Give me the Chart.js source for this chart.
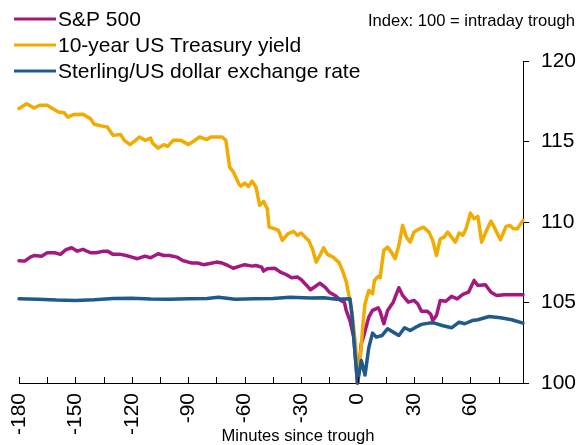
<!DOCTYPE html>
<html>
<head>
<meta charset="utf-8">
<script src="https://cdn.jsdelivr.net/npm/chart.js@4"></script>
<style>
  html, body { margin: 0; padding: 0; background: #fff; }
  #wrap { width: 579px; height: 445px; }
</style>
</head>
<body>
<div id="wrap"><canvas id="chart1"></canvas></div>
<script>
// minutes since trough, index: 100 = intraday trough
let spxMinutes = [-180,-177,-174,-172,-168,-165,-161,-158,-155,-152,-149,-146,-142,-139,-135,-133,-130,-126,-123,-120,-117,-113,-110,-106,-103,-100,-96,-93,-90,-88,-85,-82,-79,-75,-72,-69,-66,-63,-60,-56,-54,-51,-50,-48,-44,-41,-38,-35,-32,-30,-27,-25,-23,-20,-17,-15,-12,-9,-7,-6,-4,-2,0,2,3,6,8,11,12,14,16,19,22,24,27,30,32,34,37,39,40,42,44,47,50,53,56,59,62,64,68,71,74,78,88]
let spxIndex = [107.6,107.57,107.82,107.92,107.88,108.09,108.09,107.99,108.28,108.4,108.19,108.3,108.09,108.09,108.19,108.19,107.99,107.99,107.92,107.82,107.72,107.88,107.78,108.03,107.92,107.92,107.82,107.61,107.51,107.45,107.45,107.35,107.41,107.51,107.45,107.3,107.13,107.24,107.35,107.26,107.3,107.2,106.95,107.1,107.13,106.89,106.74,106.54,106.58,106.43,106.06,105.79,105.95,106.2,105.92,105.64,105.44,105.13,105.02,104.51,103.88,102.85,100,102.44,102.8,104.09,104.51,104.67,104.44,103.68,104.51,105.02,105.92,105.44,105.02,105.13,104.92,104.46,104.46,104.26,103.88,104.2,105.13,105.08,105.38,105.23,105.5,105.64,106.37,106.06,106.1,105.64,105.44,105.48,105.48]

let tsyMinutes = [-180,-176,-172,-169,-165,-162,-159,-156,-154,-151,-146,-142,-140,-135,-133,-130,-126,-124,-121,-118,-116,-113,-110,-109,-106,-103,-101,-98,-94,-90,-87,-84,-80,-78,-72,-70,-68,-66,-63,-62,-60,-58,-56,-54,-52,-50,-48,-47,-44,-42,-40,-37,-34,-32,-30,-27,-26,-24,-22,-20,-18,-16,-13,-10,-8,-6,-4,-3,-2,-1,0,1,2,3,4,6,8,9,11,12,14,16,18,20,22,24,26,28,30,32,35,38,40,42,44,46,48,50,52,54,56,58,60,62,64,66,69,71,74,76,79,81,83,85,88]
let tsyIndex = [117.05,117.35,117.08,117.25,117.25,117.04,116.83,116.79,116.52,116.67,116.69,116.42,116.07,115.94,115.9,115.38,115.44,115.07,114.8,115.07,115.28,115.07,115.21,114.9,114.59,114.8,114.7,115.07,115.07,114.82,115.03,115.28,115.12,115.28,115.28,115.07,113.41,113.1,112.34,112.23,112.42,112.21,112.54,112.17,111.03,111.28,110.83,109.68,109.58,109.48,108.86,109.27,109.42,109.17,109.31,108.96,108.86,108.34,107.51,107.92,108.4,107.99,107.82,107.51,106.99,106.3,105.1,104.4,103.4,102.3,100,101,102.3,103.8,104.92,105.75,105.54,106.37,106.62,106.54,108.24,108.44,108.13,107.72,108.55,109.79,109.06,108.75,109.37,109.52,109.68,109.37,108.86,107.92,108.96,109.06,109.37,109.06,108.75,109.31,109.17,109.68,110.55,110.2,110.35,108.75,109.58,110.06,109.37,108.9,109.73,109.79,109.58,109.58,110.1]

let gbpMinutes = [-180,-170,-160,-150,-140,-130,-120,-110,-100,-90,-80,-74,-65,-55,-45,-36,-25,-18,-11,-4,-3,-2,-1,0,2,4,6,8,10,13,16,19,22,25,28,31,34,38,41,45,50,54,57,61,64,70,76,82,88]
let gbpIndex = [105.23,105.2,105.15,105.13,105.17,105.25,105.27,105.22,105.2,105.23,105.25,105.33,105.2,105.23,105.25,105.33,105.28,105.3,105.2,105.23,104.3,102.8,101.4,100,101.4,100.5,102.2,103.1,102.85,102.95,103.37,103.16,102.95,103.43,103.26,103.47,103.64,103.72,103.72,103.57,103.43,103.78,103.68,103.88,103.93,104.13,104.05,103.93,103.72]

let yTicks = [100, 105, 110, 115, 120]

let labelFont = 'Liberation Sans, Arial, sans-serif'

function points(xs, ys) {
  return xs.map((m, i) => ({ x: m, y: ys[i] }))
}

let extras = {
  id: 'extras',
  afterDraw(chart) {
    let ctx = chart.ctx
    let area = chart.chartArea
    let xs = chart.scales.x
    ctx.save()
    // x ticks point up into the plot
    ctx.strokeStyle = '#000'
    ctx.lineWidth = 1
    xs.ticks.forEach(t => {
      let px = Math.round(xs.getPixelForValue(t.value)) + 0.5
      ctx.beginPath()
      ctx.moveTo(px, area.bottom)
      ctx.lineTo(px, area.bottom - 6)
      ctx.stroke()
    })
    // legend
    ctx.font = '21px ' + labelFont
    ctx.textBaseline = 'middle'
    ctx.textAlign = 'left'
    let rowY = [19, 45, 71]
    chart.data.datasets.forEach((ds, i) => {
      ctx.strokeStyle = ds.borderColor
      ctx.lineWidth = 3
      ctx.beginPath()
      ctx.moveTo(14, rowY[i])
      ctx.lineTo(56, rowY[i])
      ctx.stroke()
      ctx.fillStyle = '#000'
      ctx.fillText(ds.label, 58, rowY[i] + 1)
    })
    // notes
    ctx.font = '16.6px ' + labelFont
    ctx.textAlign = 'right'
    ctx.fillText('Index: 100 = intraday trough', 575, 21)
    ctx.textAlign = 'center'
    ctx.fillText('Minutes since trough', 298, 436)
    ctx.restore()
  }
}

new Chart(document.getElementById('chart1'), {
  type: 'line',
  data: {
    datasets: [
      {
        label: 'S&P 500',
        data: points(spxMinutes, spxIndex),
        borderColor: '#a3197f',
        order: 2
      },
      {
        label: '10-year US Treasury yield',
        data: points(tsyMinutes, tsyIndex),
        borderColor: '#f2ab00',
        order: 1
      },
      {
        label: 'Sterling/US dollar exchange rate',
        data: points(gbpMinutes, gbpIndex),
        borderColor: '#1f5a8a',
        order: 0
      }
    ]
  },
  options: {
    responsive: true,
    maintainAspectRatio: false,
    animation: false,
    layout: { padding: { left: 19, top: 61, right: 0, bottom: 0 } },
    elements: {
      line: { borderWidth: 3.5, tension: 0, borderJoinStyle: 'round', borderCapStyle: 'round' },
      point: { radius: 0 }
    },
    datasets: { line: { clip: false } },
    plugins: {
      legend: { display: false },
      tooltip: { enabled: false }
    },
    scales: {
      x: {
        type: 'linear',
        min: -180,
        max: 88,
        afterBuildTicks: s => { s.ticks = s.ticks.filter(t => t.value % 15 === 0) },
        afterFit: s => { s.height = 62 },
        grid: { drawOnChartArea: false, drawTicks: false },
        border: { display: true, color: '#000', width: 1 },
        ticks: {
          stepSize: 15,
          autoSkip: false,
          maxRotation: 90,
          minRotation: 90,
          padding: 10,
          color: '#000',
          font: { family: labelFont, size: 21 },
          callback: v => (v % 30 === 0 ? String(v) : '')
        }
      },
      y: {
        position: 'right',
        min: 100,
        max: 120,
        afterBuildTicks: s => { s.ticks = yTicks.map(v => ({ value: v })) },
        afterFit: s => { s.width = 56 },
        grid: { drawOnChartArea: false, drawTicks: true, tickLength: 6, color: '#000' },
        border: { display: true, color: '#000', width: 1 },
        ticks: {
          padding: 12,
          color: '#000',
          font: { family: labelFont, size: 21 }
        }
      }
    }
  },
  plugins: [extras]
})
</script>
</body>
</html>
